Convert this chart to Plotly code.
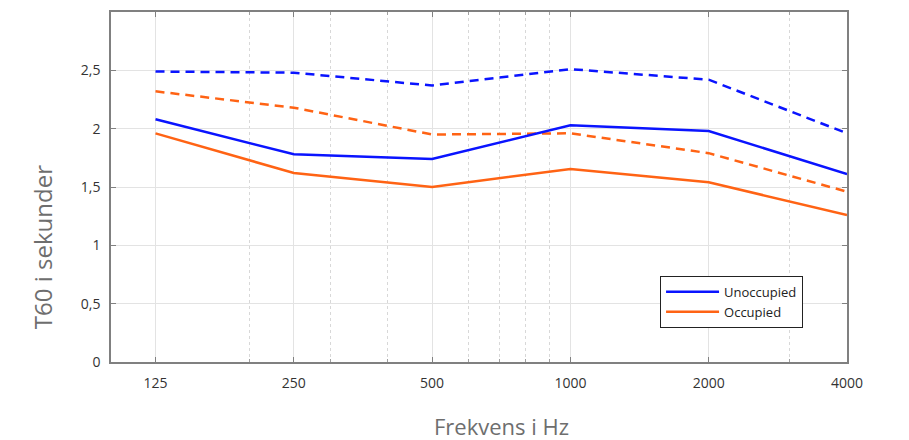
import plotly.graph_objects as go

freqs = [125, 250, 500, 1000, 2000, 4000]
tick_labels = ["125", "250", "500", "1000", "2000", "4000"]
minor_ticks = [200, 300, 400, 600, 700, 800, 900, 3000]

unocc_solid = [2.08, 1.78, 1.74, 2.03, 1.98, 1.61]
unocc_dash = [2.49, 2.48, 2.37, 2.51, 2.42, 1.96]
occ_solid = [1.96, 1.62, 1.50, 1.655, 1.54, 1.26]
occ_dash = [2.32, 2.18, 1.95, 1.96, 1.79, 1.46]

y_ticks = [0, 0.5, 1, 1.5, 2, 2.5]
y_tick_labels = ["0", "0,5", "1", "1,5", "2", "2,5"]

BLUE = "#0a14ff"
ORANGE = "#ff6314"
DASH = "9px,6px"

fig = go.Figure()
fig.add_trace(go.Scatter(x=freqs, y=unocc_dash, mode="lines", line=dict(color=BLUE, width=2.5, dash=DASH), showlegend=False))
fig.add_trace(go.Scatter(x=freqs, y=occ_dash, mode="lines", line=dict(color=ORANGE, width=2.5, dash=DASH), showlegend=False))
fig.add_trace(go.Scatter(x=freqs, y=unocc_solid, mode="lines", name="Unoccupied", line=dict(color=BLUE, width=2.5)))
fig.add_trace(go.Scatter(x=freqs, y=occ_solid, mode="lines", name="Occupied", line=dict(color=ORANGE, width=2.5)))

fig.update_layout(
    width=901, height=432,
    margin=dict(l=103, r=62, t=4, b=78),
    paper_bgcolor="white", plot_bgcolor="white",
    font=dict(family="Open Sans", color="#333333", size=14),
    legend=dict(
        x=0.746, y=0.246, xanchor="left", yanchor="top",
        bgcolor="white", bordercolor="#222222", borderwidth=1,
        font=dict(size=13, color="#222222"),
        itemwidth=53,
        tracegroupgap=2,
    ),
    xaxis=dict(
        type="log", range=[2, 3.60206], automargin=False,
        tickmode="array", tickvals=freqs, ticktext=tick_labels,
        showgrid=True, gridcolor="#e3e3e3", gridwidth=1,
        showline=True, linecolor="#808080", linewidth=1.5, mirror="allticks",
        ticks="inside", ticklen=5, tickcolor="#808080",
        ticklabelstandoff=7,
        minor=dict(tickmode="array", tickvals=minor_ticks, showgrid=True,
                   gridcolor="#d8d8d8", griddash="dot", gridwidth=1,
                   ticks="inside", ticklen=3, tickcolor="#a0a0a0"),
        zeroline=False,
    ),
    yaxis=dict(
        range=[0, 3], automargin=False,
        tickmode="array", tickvals=y_ticks, ticktext=y_tick_labels,
        showgrid=True, gridcolor="#e3e3e3", gridwidth=1,
        showline=True, linecolor="#808080", linewidth=1.5, mirror="allticks",
        ticks="inside", ticklen=5, tickcolor="#808080",
        ticklabelstandoff=6,
        zeroline=False,
    ),
    annotations=[
        dict(text="Frekvens i Hz", xref="paper", yref="paper", x=0.53, y=-0.184,
             xanchor="center", yanchor="middle", showarrow=False,
             font=dict(size=22, color="#6e6e6e")),
        dict(text="T60 i sekunder", xref="paper", yref="paper", x=-0.092, y=0.329,
             xanchor="center", yanchor="middle", showarrow=False, textangle=-90,
             font=dict(size=24, color="#6e6e6e")),
    ],
)

fig.write_html("out.html")
